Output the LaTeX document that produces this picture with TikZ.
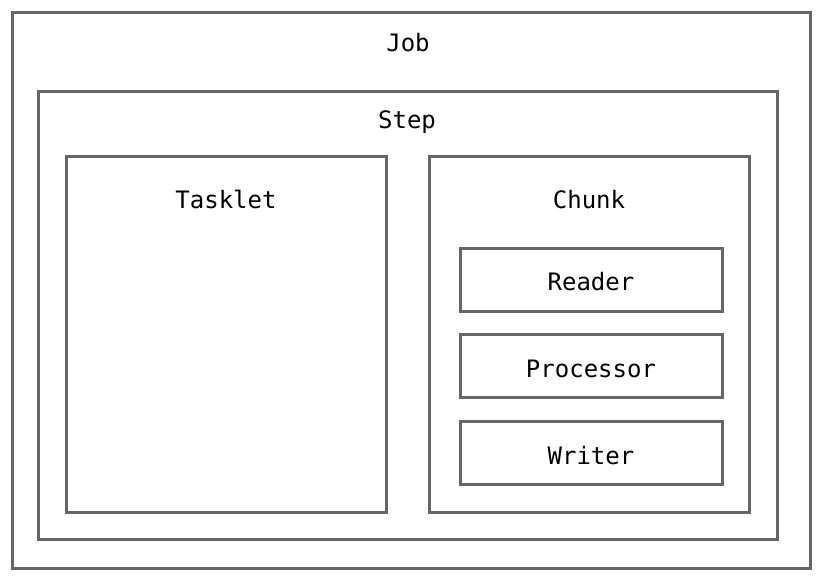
\documentclass[tikz,border=0pt]{standalone}
\usepackage{fontspec}
\setmonofont{DejaVu Sans Mono}
\usepackage{tikz}
\usetikzlibrary{positioning}
\definecolor{boxgray}{HTML}{666666}

\begin{document}
\begin{tikzpicture}[x=1pt, y=-1pt,
    every node/.style={font=\ttfamily\fontsize{24}{26}\selectfont, text=black},
    box/.style={draw=boxgray, line width=3pt, inner sep=0pt, fill=white, text height=22pt, text depth=0pt},
    caption/.style={anchor=base}]
    \useasboundingbox (0, 0) rectangle (823, 585);
    \node[box, minimum width=798pt, minimum height=555pt] (job) at (411, 290.5) {};
    \node[box, minimum width=739pt, minimum height=448pt] (step) at (407.5, 316) {};
    \node[box, minimum width=320pt, minimum height=356pt] (tasklet) at (226, 335) {};
    \node[box, minimum width=320pt, minimum height=356pt] (chunk) at (589, 335) {};
    \node[box, minimum width=262pt, minimum height=63pt] (reader) at (591, 280) {Reader};
    \node[box, minimum width=262pt, minimum height=63pt] (processor) at (591, 366.5) {Processor};
    \node[box, minimum width=262pt, minimum height=63pt] (writer) at (591, 453.5) {Writer};
    \node[caption] (joblabel) at (408, 52) {Job};
    \node[caption] (steplabel) at (407, 129) {Step};
    \node[caption] (taskletlabel) at (226, 208.5) {Tasklet};
    \node[caption] (chunklabel) at (589, 208.5) {Chunk};
\end{tikzpicture}
\end{document}
